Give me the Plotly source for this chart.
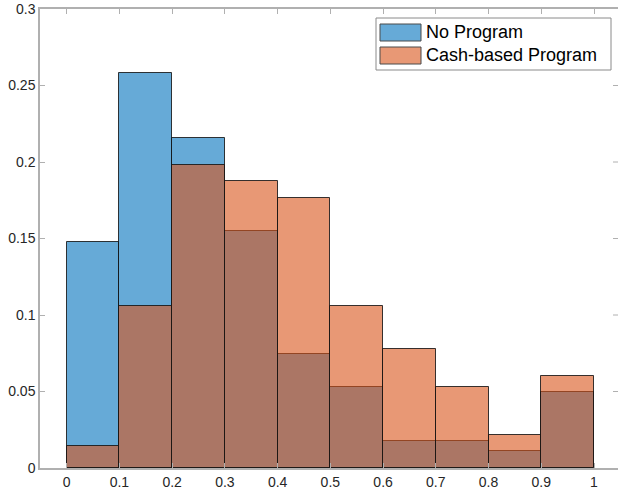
import plotly.graph_objects as go

# Histogram bins (normalized to probability)
bin_edges = [0.0, 0.1, 0.2, 0.3, 0.4, 0.5, 0.6, 0.7, 0.8, 0.9, 1.0]
no_program = [0.148, 0.258, 0.216, 0.155, 0.0745, 0.053, 0.0176, 0.0176, 0.0111, 0.0496]
cash_program = [0.0142, 0.1058, 0.198, 0.1873, 0.1764, 0.1056, 0.0777, 0.0529, 0.0213, 0.0599]
series_names = ["No Program", "Cash-based Program"]

x_tick_vals = [0.0, 0.1, 0.2, 0.3, 0.4, 0.5, 0.6, 0.7, 0.8, 0.9, 1.0]
x_tick_text = ["0", "0.1", "0.2", "0.3", "0.4", "0.5", "0.6", "0.7", "0.8", "0.9", "1"]
y_tick_vals = [0.0, 0.05, 0.1, 0.15, 0.2, 0.25, 0.3]
y_tick_text = ["0", "0.05", "0.1", "0.15", "0.2", "0.25", "0.3"]

centers = [(a + b) / 2 for a, b in zip(bin_edges[:-1], bin_edges[1:])]
widths = [b - a for a, b in zip(bin_edges[:-1], bin_edges[1:])]

BLUE = "rgba(0,114,189,0.6)"
ORANGE = "rgba(217,83,25,0.6)"
EDGE = "rgba(20,20,20,0.85)"
AXIS = "#b0b0b0"
FONT = "Liberation Sans, Arial, Helvetica, sans-serif"

W, H = 618, 489
ML, MR, MT, MB = 40, 0, 9, 21

fig = go.Figure()
for vals, color, name in [(no_program, BLUE, series_names[0]),
                          (cash_program, ORANGE, series_names[1])]:
    fig.add_trace(go.Bar(
        x=centers, y=vals, width=widths, name=name,
        marker=dict(color=color, line=dict(color=EDGE, width=1)),
        showlegend=False,
    ))

axis_common = dict(
    showline=True, linecolor=AXIS, linewidth=1.5,
    ticks="inside", ticklen=5, tickwidth=1, tickcolor=AXIS,
    showgrid=False, zeroline=False,
    tickfont=dict(family=FONT, size=14, color="#262626"),
)

fig.update_layout(
    width=W, height=H,
    margin=dict(l=ML, r=MR, t=MT, b=MB),
    plot_bgcolor="white", paper_bgcolor="white",
    barmode="overlay", bargap=0,
    xaxis=dict(range=[-0.0506, 1.0455], tickvals=x_tick_vals, ticktext=x_tick_text,
               mirror="ticks", **axis_common),
    yaxis=dict(range=[0, 0.3], tickvals=y_tick_vals, ticktext=y_tick_text,
               mirror=False, **axis_common),
)

# Pixel helpers for the figure's plot area
pw, ph = W - ML - MR, H - MT - MB


def px(x):
    return (x - ML) / pw


def py(y):
    return (H - MB - y) / ph


# Inward tick marks along the right edge (the right spine falls just outside the view)
for v in y_tick_vals[1:-1]:
    fig.add_shape(type="line", xref="paper", yref="y",
                  x0=1 - 5 / pw, x1=1, y0=v, y1=v,
                  line=dict(color=AXIS, width=1))

# Legend box
fig.add_shape(type="rect", xref="paper", yref="paper",
              x0=px(376), x1=px(611), y0=py(70), y1=py(18),
              line=dict(color="#8a8a8a", width=1), fillcolor="white", layer="above")
for i, (name, color) in enumerate(zip(series_names, [BLUE, ORANGE])):
    top = 24 + i * 23
    fig.add_shape(type="rect", xref="paper", yref="paper",
                  x0=px(380), x1=px(421), y0=py(top + 17), y1=py(top),
                  line=dict(color="#4a4a4a", width=1), fillcolor=color, layer="above")
    fig.add_annotation(xref="paper", yref="paper", x=px(424), y=py(top + 8.5),
                       text=name, showarrow=False, xanchor="left", yanchor="middle",
                       font=dict(family=FONT, size=18, color="black"))

fig.write_html("out.html")
